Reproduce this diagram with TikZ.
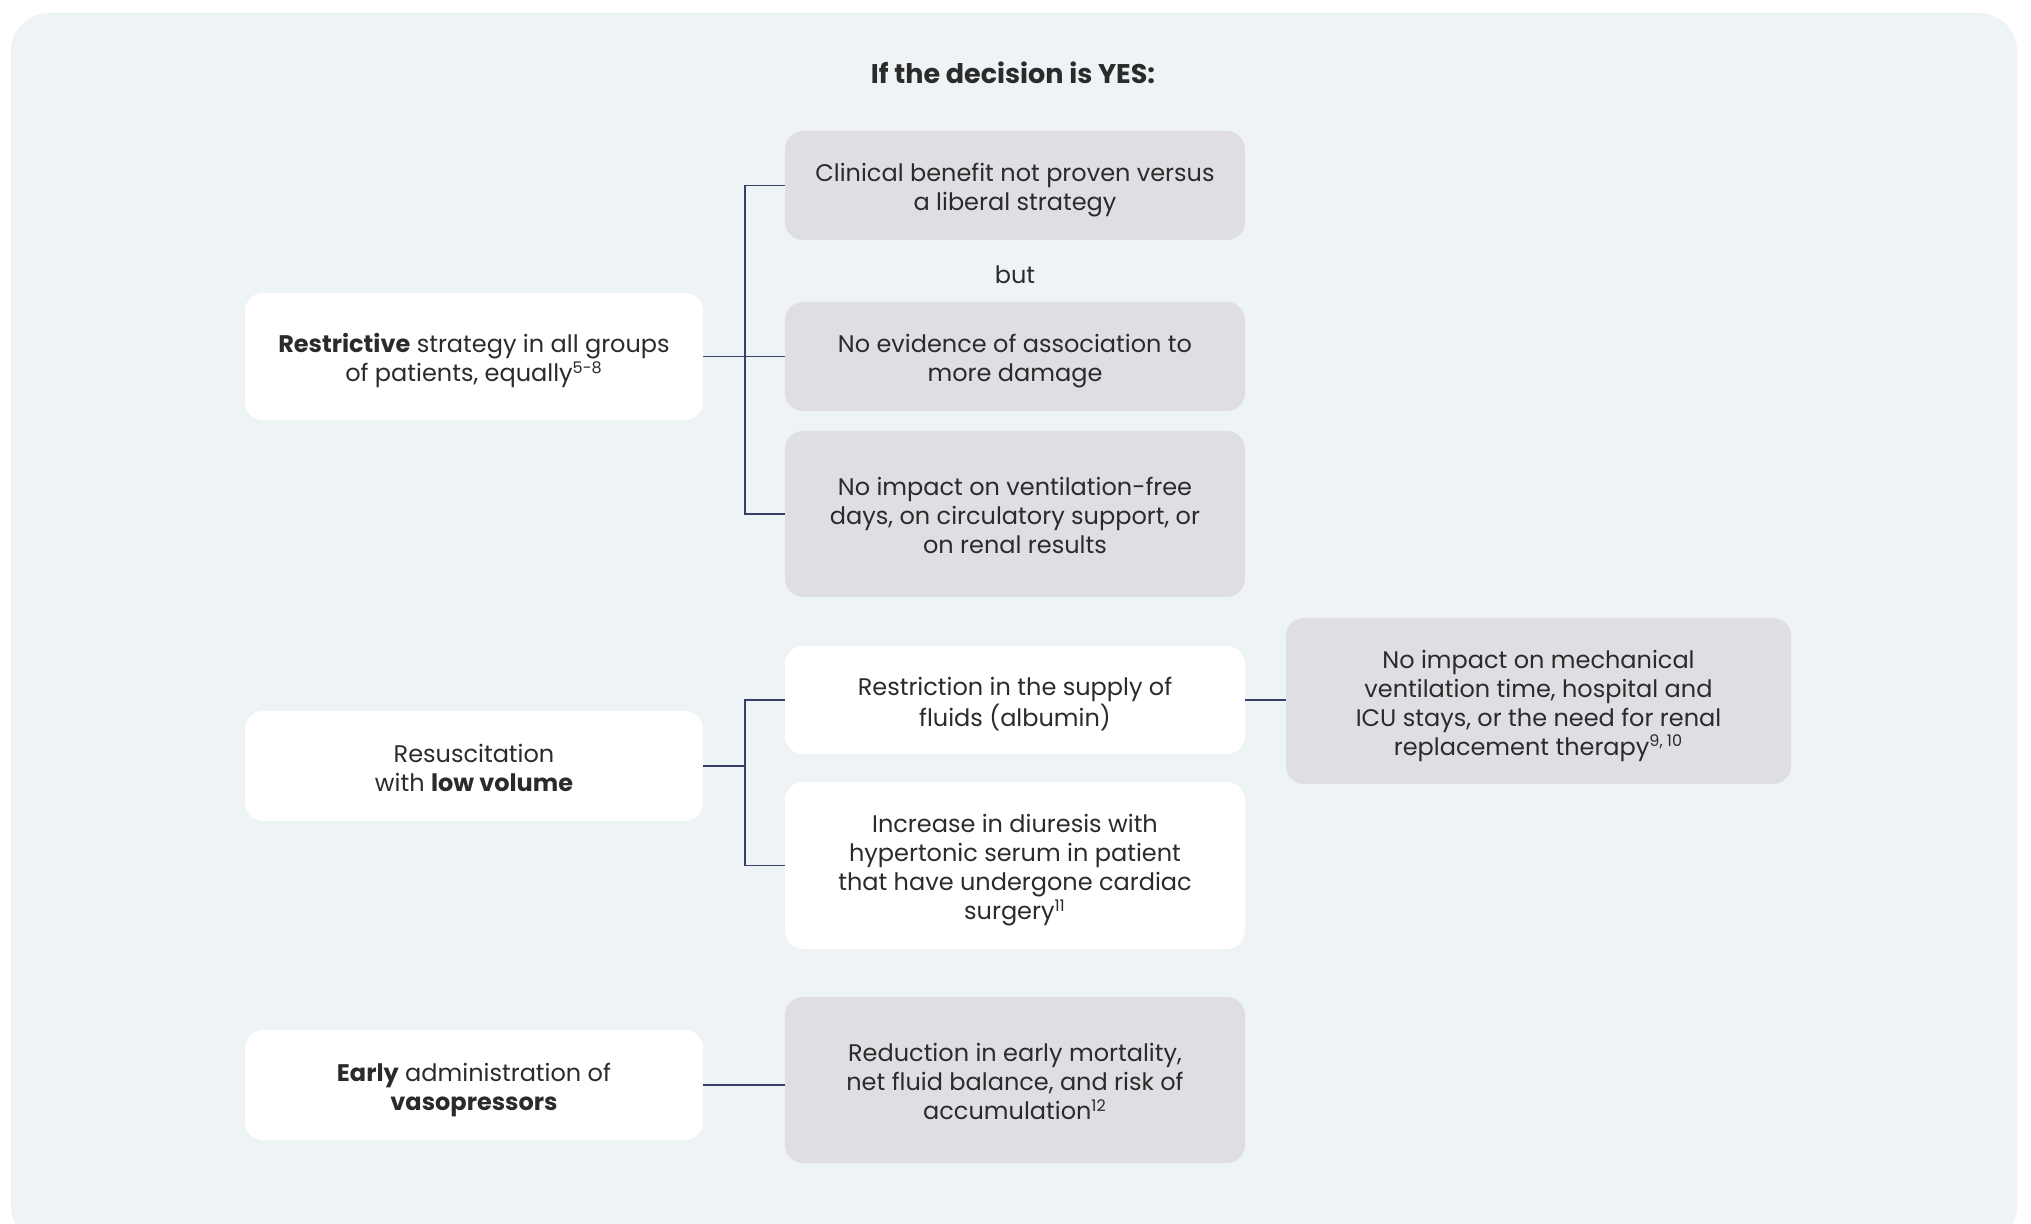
\documentclass[tikz,border=0pt]{standalone}
\usepackage{fontspec}
\setmainfont{Poppins}
\usetikzlibrary{calc}
\definecolor{panel}{HTML}{EEF3F6}
\definecolor{graybox}{HTML}{DFDEE3}
\definecolor{linec}{HTML}{3A3E6E}
\definecolor{txt}{HTML}{2B2B2B}
\newcommand{\bt}[1]{\raisebox{-2.5pt}[\height][\depth]{\begin{tabular}{@{}c@{}}#1\end{tabular}}}
\begin{document}
\begin{tikzpicture}[x=0.5pt,y=-0.5pt,
  every node/.style={text=txt, font=\fontsize{12pt}{14.5pt}\selectfont},
  basebox/.style={rounded corners=9pt, align=center, inner sep=0pt},
  whitebox/.style={basebox, fill=white},
  greybox/.style={basebox, fill=graybox},
  leftw/.style={minimum width=229pt},
  midw/.style={minimum width=230pt},
  conn/.style={draw=linec, line width=0.75pt}]
\useasboundingbox (0,0) rectangle (2031,1224);
\fill[panel, rounded corners=19pt] (11,13) rectangle (2017,1245);

\node[font=\fontsize{13.5pt}{16pt}\selectfont\bfseries] (title) at (1013,73) {If the decision is YES:};

% left column
\node[whitebox, leftw, minimum height=63.5pt] (A) at (474,356.5)
  {\bt{\textbf{Restrictive} strategy in all groups\\of patients, equally\textsuperscript{5-8}}};
\node[whitebox, leftw, minimum height=55pt] (B) at (474,766)
  {\bt{Resuscitation\\with \textbf{low volume}}};
\node[whitebox, leftw, minimum height=55pt] (C) at (474,1085)
  {\bt{\textbf{Early} administration of\\\textbf{vasopressors}}};

% middle column
\node[greybox, midw, minimum height=54.5pt] (M1) at (1015,185.5)
  {\bt{Clinical benefit not proven versus\\a liberal strategy}};
\node (but) at (1015,275) {but};
\node[greybox, midw, minimum height=54.5pt] (M2) at (1015,356.5)
  {\bt{No evidence of association to\\more damage}};
\node[greybox, midw, minimum height=83pt] (M3) at (1015,514)
  {\bt{No impact on ventilation-free\\days, on circulatory support, or\\on renal results}};
\node[whitebox, midw, minimum height=54pt] (M4) at (1015,700)
  {\bt{Restriction in the supply of\\fluids (albumin)}};
\node[whitebox, midw, minimum height=83.5pt] (M5) at (1015,865.5)
  {\bt{Increase in diuresis with\\hypertonic serum in patient\\that have undergone cardiac\\surgery\textsuperscript{11}}};
\node[greybox, midw, minimum height=83pt] (M6) at (1015,1080)
  {\bt{Reduction in early mortality,\\net fluid balance, and risk of\\accumulation\textsuperscript{12}}};

% right column
\node[greybox, minimum width=252.5pt, minimum height=83pt] (R) at (1538.5,701)
  {\bt{No impact on mechanical\\ventilation time, hospital and\\ICU stays, or the need for renal\\replacement therapy\textsuperscript{9, 10}}};

% connectors
\coordinate (j1) at (745,356.5);
\coordinate (j2) at (745,766);
\draw[conn] (A.east) -- (M2.west);
\draw[conn] (M1.west) -- (M1.west -| j1) -- (M3.west -| j1) -- (M3.west);
\draw[conn] (B.east) -- (j2);
\draw[conn] (M4.west) -- (M4.west -| j2) -- (M5.west -| j2) -- (M5.west);
\draw[conn] (C.east) -- (C.east -| M6.west);
\draw[conn] (M4.east) -- (M4.east -| R.west);
\end{tikzpicture}
\end{document}
